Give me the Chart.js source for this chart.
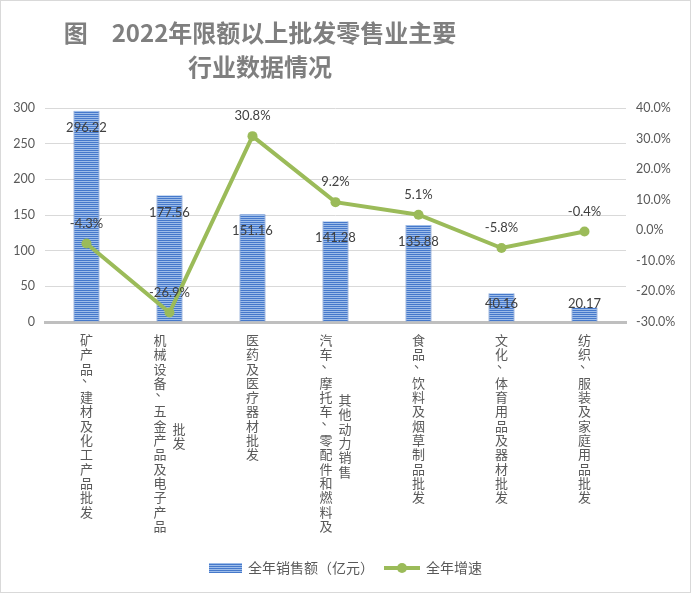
<!DOCTYPE html>
<html>
<head>
<meta charset="utf-8">
<script src="https://cdn.jsdelivr.net/npm/chart.js@4.4.0/dist/chart.umd.min.js"></script>
<style>
  body { margin: 0; background: #fff; }
  #wrap { width: 691px; height: 593px; }
</style>
</head>
<body>
<div id="wrap"><canvas id="myChart" width="691" height="593"></canvas></div>
<script>
// categories: each inner array = one vertical column of the label
const categories = [
  ["矿产品、建材及化工产品批发"],
  ["机械设备、五金产品及电子产品", "批发"],
  ["医药及医疗器材批发"],
  ["汽车、摩托车、零配件和燃料及", "其他动力销售"],
  ["食品、饮料及烟草制品批发"],
  ["文化、体育用品及器材批发"],
  ["纺织、服装及家庭用品批发"]
];
const sales = [296.22, 177.56, 151.16, 141.28, 135.88, 40.16, 20.17];
const growth = [-4.3, -26.9, 30.8, 9.2, 5.1, -5.8, -0.4];
const salesTicks = [0, 50, 100, 150, 200, 250, 300];
const growthTicks = [-30, -20, -10, 0, 10, 20, 30, 40];

const titleLines = ["图\u30002022年限额以上批发零售业主要", "行业数据情况"];
const legendNames = ["全年销售额（亿元）", "全年增速"];

const BLUE = "#4679cb";
const GREEN = "#9bbb59";
const TXT = "#595959";
const CJK = "'Noto Sans CJK SC', 'Noto Sans', sans-serif";
const NUM = "Lato, 'Noto Sans', sans-serif";

function stripes() {
  const c = document.createElement("canvas");
  c.width = 4;
  c.height = 2;
  const g = c.getContext("2d");
  g.fillStyle = BLUE;
  g.fillRect(0, 0, 4, 1);
  g.fillStyle = "#9ebde9";
  g.fillRect(0, 1, 4, 1);
  return g.createPattern(c, "repeat");
}
const pattern = stripes();

const extras = {
  id: "extras",
  afterDatasetsDraw(chart) {
    const ctx = chart.ctx;
    const base = chart.scales.y.getPixelForValue(0);
    ctx.save();
    ctx.font = "13px " + NUM;
    ctx.fillStyle = "#404040";
    ctx.textAlign = "center";
    ctx.textBaseline = "middle";
    chart.getDatasetMeta(0).data.forEach((bar, i) => {
      const y = Math.min(bar.y + 17, base - 18);
      ctx.fillText(sales[i].toFixed(2), bar.x, y);
    });
    chart.getDatasetMeta(1).data.forEach((pt, i) => {
      ctx.fillText(growth[i].toFixed(1) + "%", pt.x, pt.y - 20);
    });
    ctx.restore();
  },
  afterDraw(chart) {
    const ctx = chart.ctx;
    const xs = chart.scales.x;
    ctx.save();

    // title, centred over the left part like the original
    ctx.fillStyle = "#7f7f7f";
    ctx.font = "bold 24px " + CJK;
    ctx.textAlign = "center";
    ctx.textBaseline = "middle";
    titleLines.forEach((t, i) => ctx.fillText(t, 260, 33 + i * 34));

    // vertical category labels
    const top = chart.chartArea.bottom + 18;
    const step = 14.3;
    const colGap = 19;
    ctx.font = "13px " + CJK;
    ctx.fillStyle = TXT;
    categories.forEach((cols, i) => {
      const cx = xs.getPixelForValue(i);
      const x0 = cx - (cols.length - 1) * colGap / 2;
      const first = [...cols[0]];
      const mid = top + (first.length - 1) * step / 2;
      cols.forEach((col, k) => {
        const chars = [...col];
        const y0 = k === 0 ? top : mid - (chars.length - 1) * step / 2 + 3;
        chars.forEach((ch, j) => {
          const dy = ch === "、" ? -7 : 0;
          const dx = ch === "、" ? 2 : 0;
          ctx.fillText(ch, x0 + k * colGap + dx, y0 + j * step + dy);
        });
      });
    });

    // legend
    const ly = chart.height - 25;
    ctx.font = "14px " + CJK;
    ctx.textAlign = "left";
    const w1 = ctx.measureText(legendNames[0]).width;
    const w2 = ctx.measureText(legendNames[1]).width;
    const total = 33 + 6 + w1 + 10 + 36 + 6 + w2;
    let lx = (chart.width - total) / 2;
    ctx.fillStyle = pattern;
    ctx.fillRect(lx, ly - 5, 33, 10);
    lx += 39;
    ctx.fillStyle = TXT;
    ctx.fillText(legendNames[0], lx, ly);
    lx += w1 + 10;
    ctx.strokeStyle = GREEN;
    ctx.lineWidth = 4;
    ctx.beginPath();
    ctx.moveTo(lx, ly);
    ctx.lineTo(lx + 36, ly);
    ctx.stroke();
    ctx.fillStyle = GREEN;
    ctx.beginPath();
    ctx.arc(lx + 18, ly, 5, 0, Math.PI * 2);
    ctx.fill();
    lx += 42;
    ctx.fillStyle = TXT;
    ctx.fillText(legendNames[1], lx, ly);

    // outer border
    ctx.strokeStyle = "#d9d9d9";
    ctx.lineWidth = 1;
    ctx.strokeRect(0.5, 0.5, chart.width - 1, chart.height - 1);
    ctx.restore();
  }
};

const ctx = document.getElementById("myChart").getContext("2d");
const myChart = new Chart(ctx, {
  type: "bar",
  data: {
    labels: categories.map((c) => c.join("")),
    datasets: [
      {
        label: legendNames[0],
        data: sales,
        yAxisID: "y",
        backgroundColor: pattern,
        borderColor: "#3f6fbd",
        borderWidth: { left: 1, right: 1, top: 0, bottom: 0 },
        barPercentage: 0.313,
        categoryPercentage: 1,
        order: 1
      },
      {
        type: "line",
        label: legendNames[1],
        data: growth,
        yAxisID: "y1",
        borderColor: GREEN,
        backgroundColor: GREEN,
        borderWidth: 4,
        pointRadius: 5,
        pointHoverRadius: 5,
        pointBackgroundColor: GREEN,
        pointBorderWidth: 0,
        tension: 0,
        order: 0
      }
    ]
  },
  options: {
    responsive: false,
    animation: false,
    layout: { padding: { left: 0, right: 0, top: 108, bottom: 0 } },
    plugins: {
      legend: { display: false },
      tooltip: { enabled: false },
      title: { display: false }
    },
    scales: {
      x: {
        grid: { display: false },
        border: { color: "#bfbfbf", width: 3 },
        ticks: { display: false },
        afterFit: (s) => { s.height = 271; }
      },
      y: {
        position: "left",
        min: 0,
        max: 300,
        afterBuildTicks: (s) => { s.ticks = salesTicks.map((v) => ({ value: v })); },
        grid: { color: "#d9d9d9", drawTicks: false },
        border: { display: false },
        ticks: { color: TXT, padding: 10, font: { family: NUM, size: 12.5 } },
        afterFit: (s) => { s.width = 45; }
      },
      y1: {
        position: "right",
        min: -30,
        max: 40,
        afterBuildTicks: (s) => { s.ticks = growthTicks.map((v) => ({ value: v })); },
        grid: { display: false, drawTicks: false },
        border: { display: false },
        ticks: {
          color: TXT,
          padding: 10,
          font: { family: NUM, size: 12.5 },
          callback: (v) => v.toFixed(1) + "%"
        },
        afterFit: (s) => { s.width = 65; }
      }
    }
  },
  plugins: [extras]
});
</script>
</body>
</html>
